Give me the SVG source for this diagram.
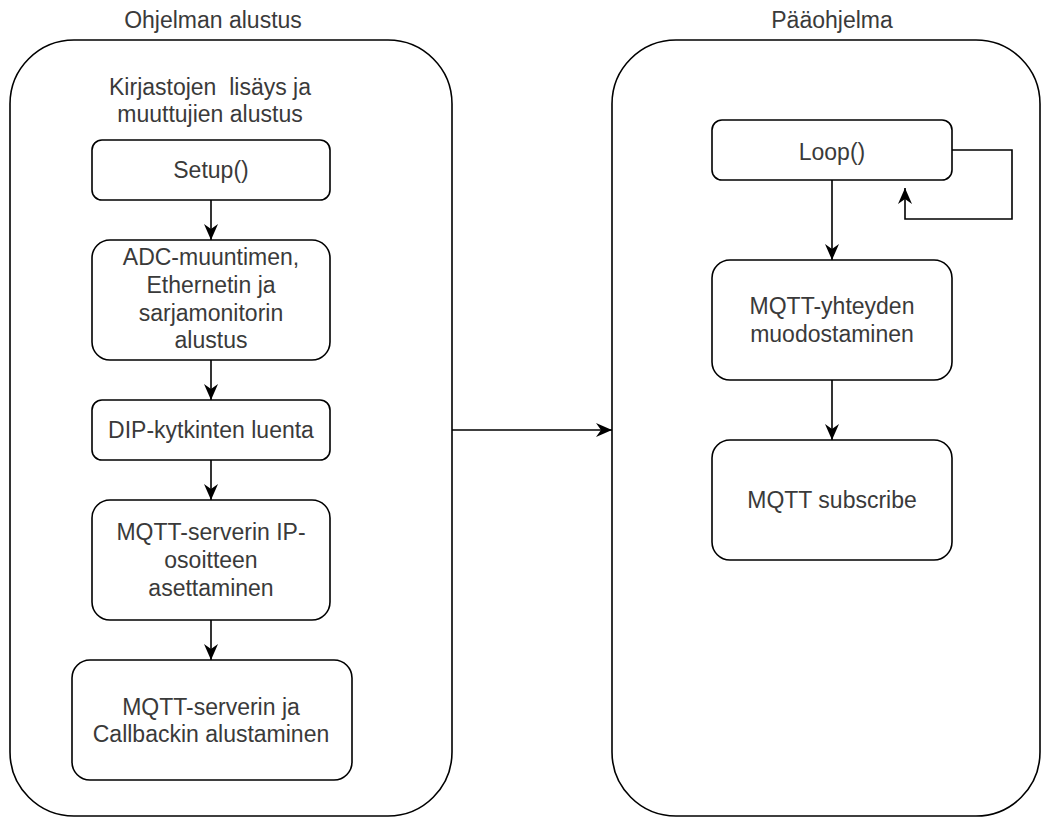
<svg xmlns="http://www.w3.org/2000/svg" width="1044" height="818" viewBox="0 0 1044 818">
  <style>
    .frame { fill: #ffffff; stroke: #000000; stroke-width: 1.6; }
    .box { fill: #ffffff; stroke: #000000; stroke-width: 1.6; }
    .lbl { font-family: "Liberation Sans", Arial, sans-serif; font-size: 23px; fill: #3a3a3a; text-anchor: middle; white-space: pre; }
    .edge { fill: none; stroke: #000000; stroke-width: 1.6; marker-end: url(#arrow); }
  </style>
  <defs>
    <marker id="arrow" viewBox="0 0 16 14" refX="16" refY="7" markerWidth="16" markerHeight="14" markerUnits="userSpaceOnUse" orient="auto">
      <path d="M0,0 L16,7 L0,14 L5,7 Z" fill="#000000"/>
    </marker>
  </defs>
  <rect width="1044" height="818" fill="#ffffff"/>

  <!-- Initialisation section -->
  <g id="init-section">
    <rect class="frame" x="10" y="40" width="442" height="776" rx="64" ry="64"/>
    <text class="lbl" x="213" y="28">Ohjelman alustus</text>
    <text class="lbl" x="210" y="95" xml:space="preserve">Kirjastojen  lisäys ja</text>
    <text class="lbl" x="210" y="122">muuttujien alustus</text>
  </g>

  <!-- Main program section -->
  <g id="main-section">
    <rect class="frame" x="612" y="40" width="428" height="776" rx="64" ry="64"/>
    <text class="lbl" x="832" y="28">Pääohjelma</text>
  </g>

  <g id="setup">
    <rect class="box" x="92" y="140" width="238" height="60" rx="10" ry="10"/>
    <text class="lbl" x="211" y="178">Setup()</text>
  </g>

  <g id="adc-init">
    <rect class="box" x="92" y="240" width="238" height="120" rx="18" ry="18"/>
    <text class="lbl" x="211" y="265">ADC-muuntimen,</text>
    <text class="lbl" x="211" y="293">Ethernetin ja</text>
    <text class="lbl" x="211" y="321">sarjamonitorin</text>
    <text class="lbl" x="211" y="348">alustus</text>
  </g>

  <g id="dip-read">
    <rect class="box" x="92" y="400" width="238" height="60" rx="10" ry="10"/>
    <text class="lbl" x="211" y="438">DIP-kytkinten luenta</text>
  </g>

  <g id="ip-set">
    <rect class="box" x="92" y="500" width="238" height="120" rx="18" ry="18"/>
    <text class="lbl" x="211" y="540">MQTT-serverin IP-</text>
    <text class="lbl" x="211" y="568">osoitteen</text>
    <text class="lbl" x="211" y="596">asettaminen</text>
  </g>

  <g id="callback-init">
    <rect class="box" x="72" y="660" width="280" height="120" rx="18" ry="18"/>
    <text class="lbl" x="211" y="715">MQTT-serverin ja</text>
    <text class="lbl" x="211" y="742">Callbackin alustaminen</text>
  </g>

  <g id="loop">
    <rect class="box" x="712" y="120" width="240" height="60" rx="10" ry="10"/>
    <text class="lbl" x="832" y="160">Loop()</text>
  </g>

  <g id="mqtt-connect">
    <rect class="box" x="712" y="260" width="240" height="120" rx="18" ry="18"/>
    <text class="lbl" x="832" y="314">MQTT-yhteyden</text>
    <text class="lbl" x="832" y="342">muodostaminen</text>
  </g>

  <g id="mqtt-subscribe">
    <rect class="box" x="712" y="440" width="240" height="120" rx="18" ry="18"/>
    <text class="lbl" x="832" y="508">MQTT subscribe</text>
  </g>

  <!-- Connectors -->
  <g id="connectors">
    <path class="edge" d="M211,200 L211,240"/>
    <path class="edge" d="M211,360 L211,400"/>
    <path class="edge" d="M211,460 L211,500"/>
    <path class="edge" d="M211,620 L211,660"/>
    <path class="edge" d="M452,430 L612,430"/>
    <path class="edge" d="M832,180 L832,260"/>
    <path class="edge" d="M832,380 L832,440"/>
    <path class="edge" d="M952,150 L1012,150 L1012,219 L905,219 L905,188"/>
  </g>
</svg>
